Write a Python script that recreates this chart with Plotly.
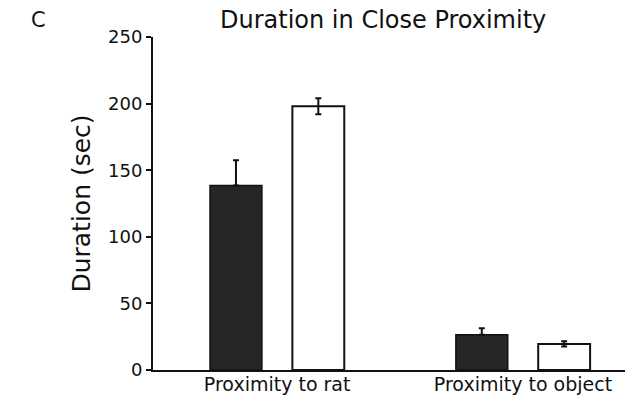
import plotly.graph_objects as go

categories = ["Proximity to rat", "Proximity to object"]
dark_values = [138.5, 26.4]
dark_err = [19, 5]
white_values = [198, 19.6]
white_err = [6, 2]
y_ticks = [0, 50, 100, 150, 200, 250]

fig = go.Figure()
fig.add_trace(go.Bar(
    x=categories, y=dark_values, name="dark",
    marker=dict(color="#262626", line=dict(color="#111111", width=1.5)),
    error_y=dict(type="data", array=dark_err, arrayminus=[0, 0], symmetric=False,
                 color="#111111", thickness=2, width=3),
))
fig.add_trace(go.Bar(
    x=categories, y=white_values, name="white",
    marker=dict(color="white", line=dict(color="#111111", width=2)),
    error_y=dict(type="data", array=white_err, color="#111111", thickness=2, width=3),
))

font = "DejaVu Sans, Verdana, sans-serif"
W, H = 629, 398
l, r, t, b = 153, 4, 37, 28
pw, ph = W - l - r, H - t - b


def px2paper(px, py):
    return (px - l) / pw, (H - b - py) / ph


tx, ty = px2paper(383, 20)
cx, cy = px2paper(38, 20)

fig.update_layout(
    width=W, height=H,
    margin=dict(l=l, r=r, t=t, b=b),
    paper_bgcolor="white", plot_bgcolor="white",
    barmode="group", bargap=0.33, bargroupgap=0.37,
    showlegend=False,
    font=dict(family=font, color="#111111"),
    xaxis=dict(range=[-0.505, 1.415], showline=True, linecolor="#111111", linewidth=2,
               ticks="", tickfont=dict(size=19), showgrid=False, zeroline=False,
               automargin=False, ticklabelstandoff=-4),
    yaxis=dict(range=[0, 250], tickvals=y_ticks, showline=True, linecolor="#111111",
               linewidth=2, ticks="outside", ticklen=5, tickwidth=1.5, tickcolor="#111111",
               tickfont=dict(size=18), showgrid=False, zeroline=False, automargin=False,
               title=dict(text="Duration (sec)", font=dict(size=25), standoff=10)),
    annotations=[
        dict(text="Duration in Close Proximity", x=tx, y=ty, xref="paper", yref="paper",
             showarrow=False, font=dict(size=24), xanchor="center", yanchor="middle"),
        dict(text="C", x=cx, y=cy, xref="paper", yref="paper",
             showarrow=False, font=dict(size=21), xanchor="center", yanchor="middle"),
    ],
)
fig.write_html("out.html")
